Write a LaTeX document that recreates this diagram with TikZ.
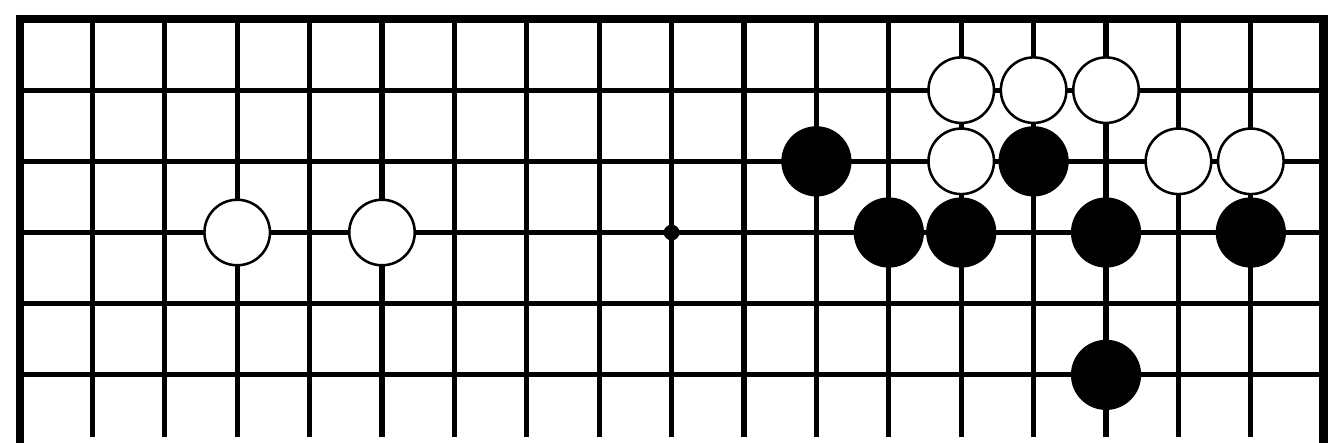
\documentclass[tikz,border=0pt]{standalone}
\usepackage{tikz}
\tikzset{
  grid line/.style={line width=2pt, black},
  edge line/.style={line width=3.4pt, black},
  wstone/.style={circle, draw=black, fill=white, line width=1pt,
    minimum size=0.905cm, inner sep=0pt},
  bstone/.style={circle, fill=black, minimum size=0.97cm, inner sep=0pt},
}

\begin{document}
\begin{tikzpicture}[x=1cm, y=0.983cm]
  \useasboundingbox (-0.276,-5.955) rectangle (18.066,0.267);

  % board lines
  \foreach \c in {1,...,17}
    \draw[grid line] (\c,0) -- (\c,-5.88);
  \foreach \r in {1,...,5}
    \draw[grid line] (0,-\r) -- (18,-\r);
  \draw[edge line] (0,-5.955) -- (0,0) -- (18,0) -- (18,-5.955);

  % star point
  \fill (9,-3) circle (0.11);

  % white stones
  \foreach \c/\r/\n in {3/3/wa, 5/3/wb, 13/1/wc, 14/1/wd, 15/1/we,
                        13/2/wf, 16/2/wg, 17/2/wh}
    \node[wstone] (\n) at (\c,-\r) {};

  % black stones
  \foreach \c/\r/\n in {11/2/ba, 14/2/bb, 12/3/bc, 13/3/bd,
                        15/3/be, 17/3/bf, 15/5/bg}
    \node[bstone] (\n) at (\c,-\r) {};

\end{tikzpicture}
\end{document}
